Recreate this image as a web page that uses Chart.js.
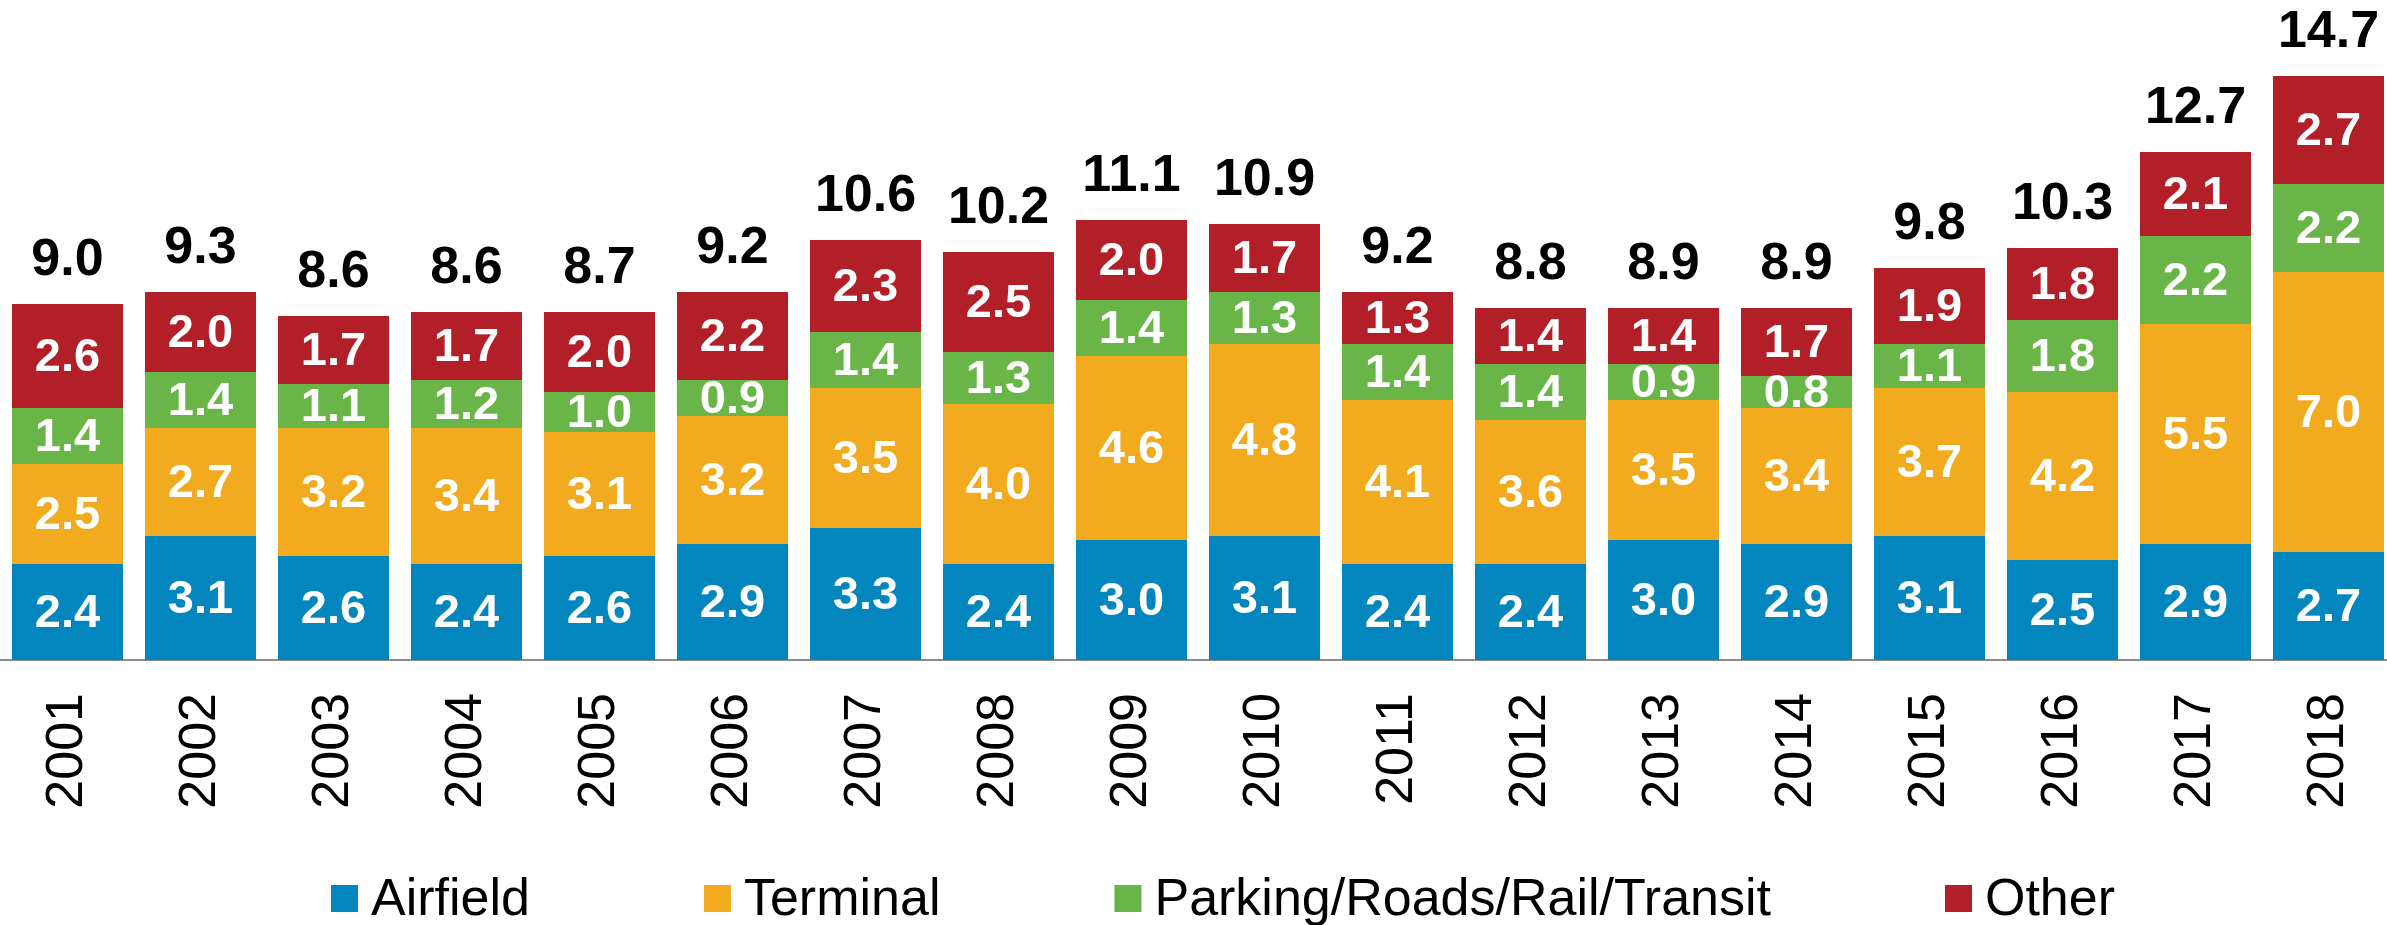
<!DOCTYPE html>
<html>
<head>
<meta charset="utf-8">
<script src="https://cdn.jsdelivr.net/npm/chart.js@4.4.1/dist/chart.umd.min.js"></script>
<style>
  html, body { margin: 0; padding: 0; background: #fff; overflow: hidden; }
  /* plot runs a few px past the right edge, as in the original */
  #wrap { width: 2395px; height: 925px; position: relative; }
</style>
</head>
<body>
<div id="wrap"><canvas id="chart"></canvas></div>
<script>
const years = ["2001", "2002", "2003", "2004", "2005", "2006", "2007", "2008", "2009",
  "2010", "2011", "2012", "2013", "2014", "2015", "2016", "2017", "2018"];
const airfield = [2.4, 3.1, 2.6, 2.4, 2.6, 2.9, 3.3, 2.4, 3.0, 3.1, 2.4, 2.4, 3.0, 2.9, 3.1, 2.5, 2.9, 2.7];
const terminal = [2.5, 2.7, 3.2, 3.4, 3.1, 3.2, 3.5, 4.0, 4.6, 4.8, 4.1, 3.6, 3.5, 3.4, 3.7, 4.2, 5.5, 7.0];
const parking = [1.4, 1.4, 1.1, 1.2, 1.0, 0.9, 1.4, 1.3, 1.4, 1.3, 1.4, 1.4, 0.9, 0.8, 1.1, 1.8, 2.2, 2.2];
const other = [2.6, 2.0, 1.7, 1.7, 2.0, 2.2, 2.3, 2.5, 2.0, 1.7, 1.3, 1.4, 1.4, 1.7, 1.9, 1.8, 2.1, 2.7];
const totals = [9.0, 9.3, 8.6, 8.6, 8.7, 9.2, 10.6, 10.2, 11.1, 10.9, 9.2, 8.8, 8.9, 8.9, 9.8, 10.3, 12.7, 14.7];

const FONT = "'Liberation Sans', Arial, sans-serif";

// white numbers inside segments, black totals on top
const labelsPlugin = {
  id: "barLabels",
  afterDatasetsDraw(chart) {
    const ctx = chart.ctx;
    ctx.save();
    ctx.textAlign = "center";
    ctx.textBaseline = "middle";
    ctx.fillStyle = "#fff";
    ctx.font = "bold 47px " + FONT;
    chart.data.datasets.forEach((ds, di) => {
      const meta = chart.getDatasetMeta(di);
      meta.data.forEach((bar, i) => {
        ctx.fillText(ds.data[i].toFixed(1), bar.x, (bar.y + bar.base) / 2 + 2);
      });
    });
    const top = chart.getDatasetMeta(chart.data.datasets.length - 1);
    ctx.fillStyle = "#000";
    ctx.font = "bold 52px " + FONT;
    ctx.textBaseline = "alphabetic";
    top.data.forEach((bar, i) => {
      ctx.fillText(totals[i].toFixed(1), bar.x, bar.y - 29);
    });
    ctx.restore();
  }
};

// legend drawn by hand: small square, tight gap, wide spacing
const legendPlugin = {
  id: "bottomLegend",
  afterDraw(chart) {
    const ctx = chart.ctx;
    ctx.save();
    ctx.font = "52px " + FONT;
    ctx.textBaseline = "alphabetic";
    ctx.textAlign = "left";
    let x = 331;
    chart.data.datasets.forEach(ds => {
      ctx.fillStyle = ds.backgroundColor;
      ctx.fillRect(x, 885, 27, 27);
      ctx.fillStyle = "#000";
      ctx.fillText(ds.label, x + 40, 915);
      x += 40 + ctx.measureText(ds.label).width + 174;
    });
    ctx.restore();
  }
};

new Chart(document.getElementById("chart"), {
  type: "bar",
  data: {
    labels: years,
    datasets: [
      { label: "Airfield", data: airfield, backgroundColor: "#0386BD" },
      { label: "Terminal", data: terminal, backgroundColor: "#F2AB1F" },
      { label: "Parking/Roads/Rail/Transit", data: parking, backgroundColor: "#6AB547" },
      { label: "Other", data: other, backgroundColor: "#B21F29" },
    ],
  },
  options: {
    responsive: true,
    maintainAspectRatio: false,
    animation: false,
    layout: { padding: { top: 20, left: 1, right: 0, bottom: 0 } },
    datasets: { bar: { barPercentage: 0.835, categoryPercentage: 1 } },
    plugins: { legend: { display: false }, tooltip: { enabled: false } },
    scales: {
      x: {
        stacked: true,
        grid: { display: false, drawTicks: false },
        border: { display: true, color: "#8c8c8c", width: 2 },
        ticks: {
          color: "#000",
          font: { family: FONT, size: 52 },
          minRotation: 90,
          maxRotation: 90,
          padding: 33,
        },
        afterFit(scale) {
          scale.height = 265;
          scale.paddingLeft = 0;
          scale.paddingRight = 0;
        },
      },
      y: {
        stacked: true,
        display: false,
        min: 0,
        max: 16,
      },
    },
  },
  plugins: [labelsPlugin, legendPlugin],
});
</script>
</body>
</html>
